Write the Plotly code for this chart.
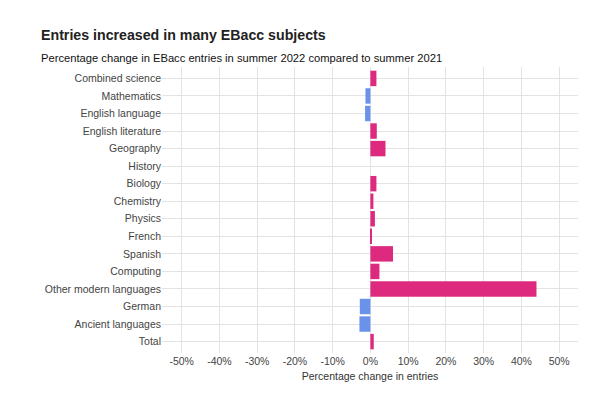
import plotly.graph_objects as go

subjects = ["Combined science", "Mathematics", "English language", "English literature",
            "Geography", "History", "Biology", "Chemistry", "Physics", "French", "Spanish",
            "Computing", "Other modern languages", "German", "Ancient languages", "Total"]
pct_change = [1.6, -1.3, -1.4, 1.7, 4.0, 0.0, 1.6, 0.8, 1.2, 0.3, 6.0, 2.4, 44.0, -2.8, -2.9, 0.9]
tick_vals = [-50, -40, -30, -20, -10, 0, 10, 20, 30, 40, 50]
tick_text = ["-50%", "-40%", "-30%", "-20%", "-10%", "0%", "10%", "20%", "30%", "40%", "50%"]

PINK = "#DE2A7E"
BLUE = "#6A92E8"
colors = [PINK if v >= 0 else BLUE for v in pct_change]

W, H = 590, 398
ML, MR, MT, MB = 162, 12, 67, 45

fig = go.Figure(go.Bar(
    x=pct_change, y=subjects, orientation="h",
    marker=dict(color=colors, line=dict(width=0)),
    width=0.88,
))

pw = W - ML - MR
ph = H - MT - MB

def px_x(x):
    return (x - ML) / pw

def px_y(y):
    return (H - y - MB) / ph

grid = "#E3E3E3"
fig.update_layout(
    width=W, height=H,
    margin=dict(l=ML, r=MR, t=MT, b=MB, autoexpand=False),
    paper_bgcolor="white", plot_bgcolor="white",
    font=dict(family="Liberation Sans, Arial, sans-serif", size=10, color="#444444"),
    showlegend=False,
    annotations=[
        dict(text="<b>Entries increased in many EBacc subjects</b>", x=px_x(39), y=px_y(35),
             xref="paper", yref="paper", showarrow=False, xanchor="left", yanchor="middle",
             font=dict(size=14.2, color="#222222")),
        dict(text="Percentage change in EBacc entries in summer 2022 compared to summer 2021",
             x=px_x(39), y=px_y(58), xref="paper", yref="paper", showarrow=False,
             xanchor="left", yanchor="middle", font=dict(size=11.2, color="#111111")),
    ],
)

fig.update_xaxes(
    range=[-55.2, 55], tickvals=tick_vals, ticktext=tick_text,
    showgrid=True, gridcolor=grid, gridwidth=1,
    zeroline=True, zerolinecolor=grid, zerolinewidth=1,
    ticks="", showline=False, automargin=False,
    title=dict(text="Percentage change in entries", standoff=7, font=dict(size=10.5, color="#333333")),
    tickfont=dict(size=10.5, color="#444444"),
)
fig.update_yaxes(
    categoryorder="array", categoryarray=subjects, range=[15.65, -0.65],
    showgrid=True, gridcolor=grid, gridwidth=1,
    ticks="", showline=False, automargin=False,
    tickfont=dict(size=10.5, color="#444444"),
)

fig.write_html("out.html", config={"displayModeBar": False},
               post_script="document.body.style.margin='0';")
